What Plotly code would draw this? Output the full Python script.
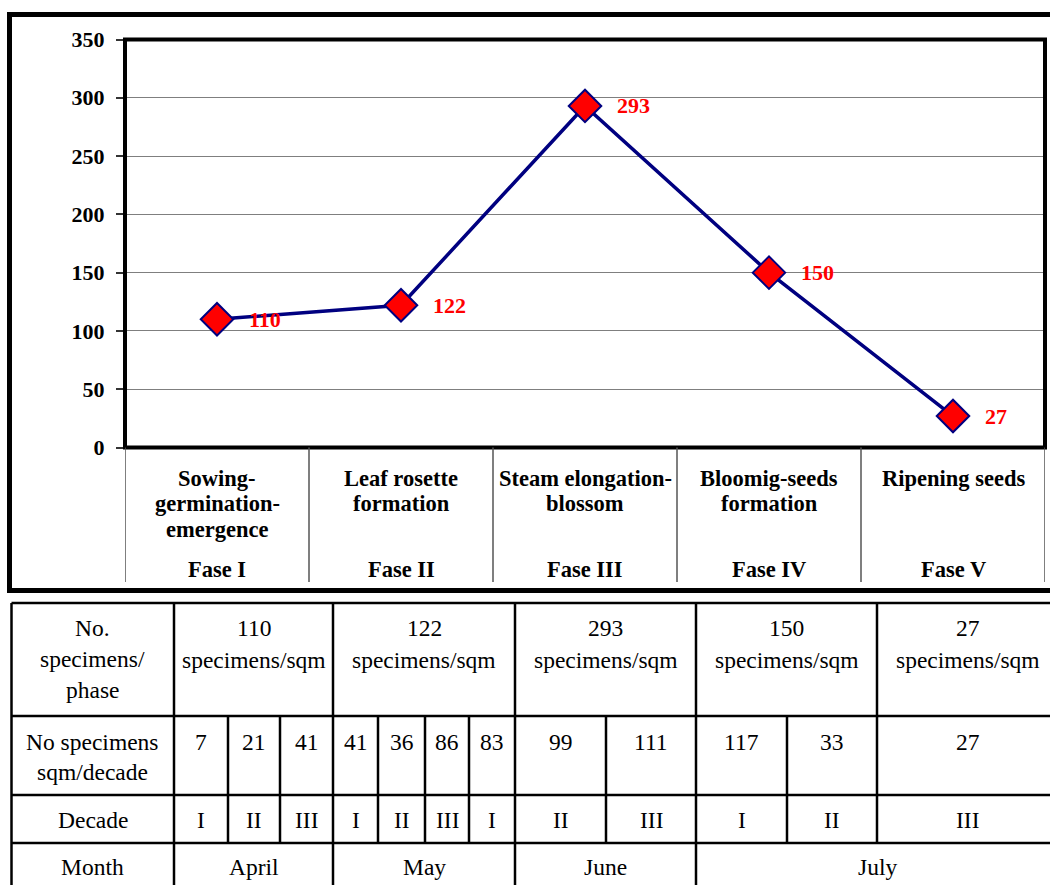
import plotly.graph_objects as go

# ---------------- data ----------------
phase_names = [
    ["Sowing-", "germination-", "emergence"],
    ["Leaf rosette", "formation"],
    ["Steam elongation-", "blossom"],
    ["Bloomig-seeds", "formation"],
    ["Ripening seeds"],
]
phase_codes = ["Fase I", "Fase II", "Fase III", "Fase IV", "Fase V"]
specimens = [110, 122, 293, 150, 27]
y_ticks = [0, 50, 100, 150, 200, 250, 300, 350]

decade_values = [7, 21, 41, 41, 36, 86, 83, 99, 111, 117, 33, 27]
decade_labels = ["I", "II", "III", "I", "II", "III", "I", "II", "III", "I", "II", "III"]
months = ["April", "May", "June", "July"]
row_headers = [["No.", "specimens/", "phase"], ["No specimens", "sqm/decade"], ["Decade"], ["Month"]]
unit_text = "specimens/sqm"

# ---------------- layout geometry (pixels) ----------------
W, H = 1050, 885
def px(x):
    return x / W
def py(y):
    return 1 - y / H

PLOT_L, PLOT_R, PLOT_T, PLOT_B = 125, 1045, 39.5, 447.5
SERIF = "Liberation Serif, Times New Roman, serif"
NAVY = "#000080"
RED = "#FF0000"

# table geometry
T_LEFT = 11.5
T_RIGHT = 1060
T_ROWS = [603, 716, 795, 843, 895]
phase_cols = [174, 333, 515, 696, 877, 1060]
decade_cols = [174, 228, 280, 333, 378, 425, 469, 515, 606, 696, 787, 877, 1060]
month_cols = [174, 333, 515, 696, 1060]

fig = go.Figure()
fig.add_trace(go.Scatter(
    x=list(range(len(specimens))), y=specimens,
    mode="lines+markers",
    line=dict(color=NAVY, width=3.5),
    marker=dict(symbol="diamond", size=25, color=RED, line=dict(color=NAVY, width=2)),
    hoverinfo="skip", showlegend=False, cliponaxis=False,
))

shapes = []
annotations = []

# outer chart frame
shapes.append(dict(type="rect", xref="paper", yref="paper",
                   x0=px(9.5), x1=px(1065), y0=py(14.5), y1=py(590.5),
                   line=dict(color="black", width=5), layer="below"))
# plot border
shapes.append(dict(type="rect", xref="x domain", yref="y domain", x0=0, x1=1, y0=0, y1=1,
                   line=dict(color="black", width=4), layer="above"))
# category separators below the plot
for i in range(len(specimens) + 1):
    shapes.append(dict(type="line", xref="x", yref="paper", x0=i - 0.5, x1=i - 0.5,
                       y0=py(PLOT_B), y1=py(582), line=dict(color="#555555", width=1.5)))

# category labels
for i, lines in enumerate(phase_names):
    for j, t in enumerate(lines):
        annotations.append(dict(xref="x", yref="paper", x=i, y=py(478 + 25.5 * j), text=t,
                                showarrow=False, xanchor="center", yanchor="middle",
                                font=dict(family=SERIF, size=22.5, color="black", weight="bold")))
    annotations.append(dict(xref="x", yref="paper", x=i, y=py(569), text=phase_codes[i],
                            showarrow=False, xanchor="center", yanchor="middle",
                            font=dict(family=SERIF, size=22.5, color="black", weight="bold")))

# data labels
for i, v in enumerate(specimens):
    annotations.append(dict(xref="x", yref="y", x=i, y=v, text=str(v), showarrow=False,
                            xanchor="left", yanchor="middle", xshift=30,
                            font=dict(family=SERIF, size=22, color=RED, weight="bold")))

# ---------------- table ----------------
TL = dict(color="black", width=2.5)
for yv in T_ROWS[:-1]:
    shapes.append(dict(type="line", xref="paper", yref="paper", x0=px(T_LEFT), x1=px(T_RIGHT),
                       y0=py(yv), y1=py(yv), line=TL))
shapes.append(dict(type="line", xref="paper", yref="paper", x0=px(T_LEFT), x1=px(T_LEFT),
                   y0=py(T_ROWS[0]), y1=py(T_ROWS[-1]), line=TL))
def vlines(cols, r0, r1):
    for xv in cols:
        shapes.append(dict(type="line", xref="paper", yref="paper", x0=px(xv), x1=px(xv),
                           y0=py(r0), y1=py(r1), line=TL))
vlines(phase_cols, T_ROWS[0], T_ROWS[1])
vlines(decade_cols, T_ROWS[1], T_ROWS[3])
vlines(month_cols, T_ROWS[3], T_ROWS[4])

def txt(x, y, t, size=23.5):
    annotations.append(dict(xref="paper", yref="paper", x=px(x), y=py(y), text=t,
                            showarrow=False, xanchor="center", yanchor="middle",
                            font=dict(family=SERIF, size=size, color="black")))

hdr_x = (T_LEFT + phase_cols[0]) / 2
for j, t in enumerate(row_headers[0]):
    txt(hdr_x, 628 + 31 * j, t)
for j, t in enumerate(row_headers[1]):
    txt(hdr_x, 742 + 30 * j, t)
txt(hdr_x, 820, row_headers[2][0])
txt(hdr_x, 867, row_headers[3][0])

for k, v in enumerate(specimens):
    cx = (phase_cols[k] + min(phase_cols[k + 1], 1058)) / 2
    txt(cx, 628, str(v))
    txt(cx, 660, unit_text)
for k, (v, d) in enumerate(zip(decade_values, decade_labels)):
    cx = (decade_cols[k] + min(decade_cols[k + 1], 1058)) / 2
    txt(cx, 742, str(v))
    txt(cx, 820, d)
for k, m in enumerate(months):
    cx = (month_cols[k] + min(month_cols[k + 1], 1058)) / 2
    txt(cx, 867, m)

fig.update_layout(
    width=W, height=H,
    margin=dict(l=0, r=0, t=0, b=0, pad=0, autoexpand=False),
    paper_bgcolor="white", plot_bgcolor="white",
    shapes=shapes, annotations=annotations,
    xaxis=dict(domain=[px(PLOT_L), px(PLOT_R)], range=[-0.5, len(specimens) - 0.5],
               showticklabels=False, showgrid=False, zeroline=False, showline=False,
               ticks="", fixedrange=True, automargin=False),
    yaxis=dict(domain=[py(PLOT_B), py(PLOT_T)], range=[0, 350], tickvals=y_ticks,
               showgrid=True, gridcolor="#7f7f7f", gridwidth=1, zeroline=False,
               showline=False, ticks="outside", ticklen=8, tickwidth=1.5, tickcolor="#333333",
               ticklabelstandoff=7, automargin=False,
               tickfont=dict(family=SERIF, size=22, color="black", weight="bold"),
               fixedrange=True),
    showlegend=False,
)

fig.write_html("out.html")
